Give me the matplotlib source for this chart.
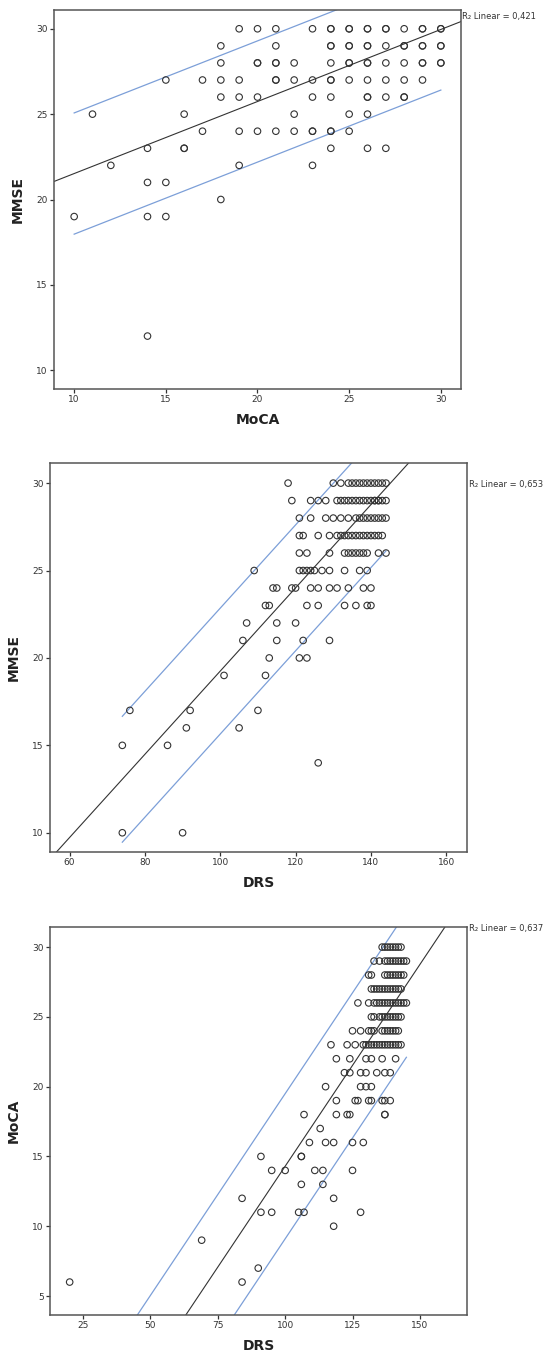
import numpy as np
import matplotlib
matplotlib.use("Agg")
import matplotlib.pyplot as plt

# --- Datos: puntos por fila (valor y -> lista de valores x) ---
# Panel 1: MoCA (x) vs MMSE (y)
mmse_vs_moca = {
    30: [19, 20, 21, 23, 24, 24, 25, 25, 26, 26, 27, 27, 28, 29, 29, 30, 30],
    29: [18, 21, 24, 24, 25, 25, 26, 26, 27, 28, 28, 29, 29, 30, 30],
    28: [18, 20, 20, 21, 21, 22, 24, 25, 25, 26, 26, 27, 28, 29, 29, 30, 30],
    27: [15, 17, 18, 19, 21, 21, 22, 23, 24, 24, 25, 26, 27, 28, 29],
    26: [18, 19, 20, 23, 24, 26, 26, 27, 28, 28],
    25: [11, 16, 22, 25, 26],
    24: [17, 19, 20, 21, 22, 23, 23, 24, 24, 25],
    23: [14, 16, 16, 24, 26, 27],
    22: [12, 19, 23],
    21: [14, 15],
    20: [18],
    19: [10, 14, 15],
    12: [14],
}

# Panel 2: DRS (x) vs MMSE (y)
mmse_vs_drs = {
    30: [118, 130, 132, 134, 135, 136, 137, 138, 139, 140, 141, 142, 143, 144],
    29: [119, 124, 126, 128, 131, 132, 133, 134, 135, 136, 137, 138, 139, 140,
         141, 141, 142, 142, 143, 144],
    28: [121, 124, 128, 130, 132, 134, 136, 137, 138, 139, 140, 141, 142, 143, 144],
    27: [121, 122, 126, 129, 131, 132, 133, 134, 135, 136, 137, 138, 139, 140,
         141, 142, 143],
    26: [121, 123, 129, 133, 134, 135, 136, 137, 138, 139, 142, 144],
    25: [109, 121, 122, 123, 124, 125, 127, 129, 133, 137, 139],
    24: [114, 115, 119, 120, 124, 126, 129, 131, 134, 138, 140],
    23: [112, 113, 123, 126, 133, 136, 139, 140],
    22: [107, 115, 120],
    21: [106, 115, 122, 129],
    20: [113, 121, 123],
    19: [101, 112],
    17: [76, 92, 110],
    16: [91, 105],
    15: [74, 86],
    14: [126],
    10: [74, 90],
}

# Panel 3: DRS (x) vs MoCA (y)
moca_vs_drs = {
    30: [136, 137, 138, 139, 140, 141, 142, 143],
    29: [133, 135, 137, 138, 139, 140, 141, 142, 143, 144, 145],
    28: [131, 132, 137, 138, 139, 140, 141, 142, 143, 144],
    27: [132, 133, 134, 135, 136, 137, 138, 139, 140, 141, 142, 143],
    26: [127, 131, 133, 134, 135, 136, 137, 138, 139, 140, 141, 142, 143, 144, 145],
    25: [132, 133, 135, 136, 137, 138, 139, 140, 141, 142, 143],
    24: [125, 128, 131, 132, 133, 136, 137, 138, 139, 140, 141, 142],
    23: [117, 123, 126, 129, 130, 131, 132, 133, 134, 135, 136, 137, 138, 139,
         140, 141, 142, 143],
    22: [119, 124, 130, 132, 136, 141],
    21: [122, 124, 128, 130, 134, 137, 139],
    20: [115, 128, 130, 132],
    19: [119, 126, 127, 131, 132, 136, 137, 139],
    18: [107, 119, 123, 124, 137, 137],
    17: [113],
    16: [109, 115, 118, 125, 129],
    15: [91, 106, 106],
    14: [95, 100, 111, 114, 125],
    13: [106, 114],
    12: [84, 118],
    11: [91, 95, 105, 107, 128],
    10: [118],
    9: [69],
    7: [90],
    6: [20, 84],
}

# Ajuste lineal: (intercepto, pendiente, semiancho del intervalo)
fit_1 = (17.30, 0.422, 3.55)
fit_2 = (-4.55, 0.238, 3.6)
fit_3 = (-14.6, 0.289, 5.2)

r2_labels = ["R\u2082 Linear = 0,421", "R\u2082 Linear = 0,653", "R\u2082 Linear = 0,637"]
x_labels = ["MoCA", "DRS", "DRS"]
y_labels = ["MMSE", "MMSE", "MoCA"]

# --- Estilo ---
W, H = 551, 1357
ink = "#333333"
blue = "#7c9fd8"

fig = plt.figure(figsize=(W / 100, H / 100), dpi=100)


def px_axes(left, top, right, bottom):
    return fig.add_axes([left / W, 1 - bottom / H, (right - left) / W, (bottom - top) / H])


panels = [
    dict(box=(54, 10, 461, 389), data=mmse_vs_moca, fit=fit_1,
         xlim=(8.9, 31.1), ylim=(8.9, 31.1), xticks=[10, 15, 20, 25, 30],
         yticks=[10, 15, 20, 25, 30], r2_pos=(462, 17)),
    dict(box=(50, 463, 467, 852), data=mmse_vs_drs, fit=fit_2,
         xlim=(54.8, 165.5), ylim=(8.9, 31.15), xticks=[60, 80, 100, 120, 140, 160],
         yticks=[10, 15, 20, 25, 30], r2_pos=(469, 484)),
    dict(box=(50, 927, 467, 1315), data=moca_vs_drs, fit=fit_3,
         xlim=(12.7, 167.5), ylim=(3.64, 31.44), xticks=[25, 50, 75, 100, 125, 150],
         yticks=[5, 10, 15, 20, 25, 30], r2_pos=(469, 928)),
]

for i, p in enumerate(panels):
    ax = px_axes(*p["box"])
    xs, ys = [], []
    for yv, row in p["data"].items():
        xs.extend(row)
        ys.extend([yv] * len(row))
    xs = np.array(xs, dtype=float)
    ys = np.array(ys, dtype=float)

    b0, b1, hw = p["fit"]
    # linea de ajuste a lo ancho del eje
    xl = np.array(p["xlim"])
    ax.plot(xl, b0 + b1 * xl, color=ink, lw=0.8, zorder=2)
    # intervalos sobre el rango de los datos
    xr = np.array([xs.min(), xs.max()])
    ax.plot(xr, b0 + b1 * xr + hw, color=blue, lw=0.9, zorder=2)
    ax.plot(xr, b0 + b1 * xr - hw, color=blue, lw=0.9, zorder=2)

    ax.scatter(xs, ys, s=22, facecolors="none", edgecolors=ink, linewidths=0.8, zorder=3)

    ax.set_xlim(*p["xlim"])
    ax.set_ylim(*p["ylim"])
    ax.set_xticks(p["xticks"])
    ax.set_yticks(p["yticks"])
    ax.tick_params(direction="out", length=3, width=0.9, color=ink,
                   labelsize=6.5, labelcolor=ink, pad=1.5)
    for s in ax.spines.values():
        s.set_color("#555555")
        s.set_linewidth(1.1)
    ax.set_xlabel(x_labels[i], fontsize=10, fontweight="bold", color="#222222", labelpad=6)
    ax.set_ylabel(y_labels[i], fontsize=10, fontweight="bold", color="#222222", labelpad=8)

    rx, ry = p["r2_pos"]
    fig.text(rx / W, 1 - ry / H, r2_labels[i], fontsize=6, color=ink, va="center", ha="left")

fig.savefig("out.png", dpi=100)
